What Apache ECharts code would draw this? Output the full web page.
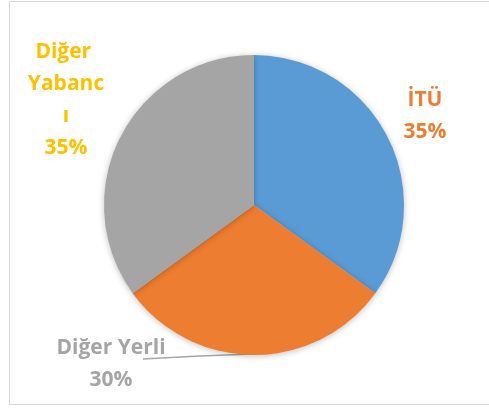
<!DOCTYPE html>
<html>
<head>
<meta charset="utf-8">
<script src="https://cdn.jsdelivr.net/npm/echarts@6/dist/echarts.min.js"></script>
<style>
  html, body { margin: 0; padding: 0; background: #fff; }
  #chart { width: 489px; height: 414px; }
</style>
</head>
<body>
<div id="chart"></div>
<script>
// data
const categories = ['İTÜ', 'Diğer Yerli', 'Diğer Yabancı'];
const shares = [35, 30, 35];
const colors = ['#5B9BD5', '#ED7D31', '#A5A5A5'];
const labelColors = ['#ED7D31', '#A5A5A5', '#FFC000'];

// where Excel put each label (centre of the text block)
const labelSpots = [
  { x: 425, y: 116 },
  { x: 111, y: 364 },
  { x: 66, y: 100 }
];

const chart = echarts.init(document.getElementById('chart'));

const pieData = categories.map((name, i) => ({
  name: name,
  value: shares[i],
  itemStyle: { color: colors[i] },
  label: {
    color: labelColors[i],
    width: i === 2 ? 78 : undefined,
    overflow: i === 2 ? 'break' : 'none'
  },
  labelLine: { show: i === 1 }
}));

const option = {
  animation: false,
  graphic: [{
    type: 'rect',
    shape: { x: 9.5, y: 1.5, width: 490, height: 403 },
    style: { fill: 'none', stroke: '#D9D9D9', lineWidth: 1 },
    silent: true
  }],
  series: [{
    type: 'pie',
    center: [254, 205],
    radius: [0, 150],
    startAngle: 90,
    clockwise: true,
    data: pieData,
    itemStyle: {
      borderWidth: 0,
      shadowBlur: 6,
      shadowColor: 'rgba(0,0,0,0.25)',
      shadowOffsetX: 0,
      shadowOffsetY: 1
    },
    label: {
      show: true,
      position: 'outside',
      formatter: p => p.name + '\n' + p.percent + '%',
      fontFamily: 'Open Sans',
      fontWeight: 'bold',
      fontSize: 21,
      lineHeight: 32,
      align: 'center'
    },
    labelLine: {
      length: 10,
      length2: 10,
      lineStyle: { color: '#A5A5A5', width: 1.3 }
    },
    labelLayout: function (params) {
      const s = labelSpots[params.dataIndex];
      const out = {
        x: s.x,
        y: s.y,
        align: 'center',
        verticalAlign: 'middle',
        hideOverlap: false
      };
      if (params.dataIndex === 1) {
        out.labelLinePoints = [[253, 354], [200, 356], [143, 359]];
      }
      return out;
    }
  }]
};

chart.setOption(option);
</script>
</body>
</html>
